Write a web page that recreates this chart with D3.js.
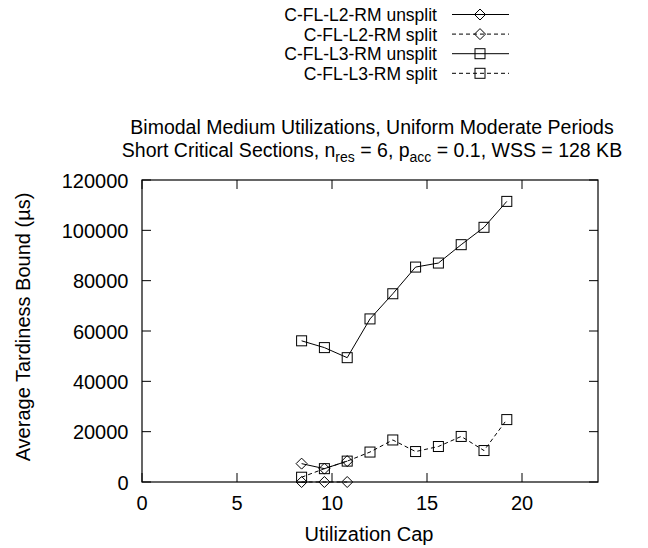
<!DOCTYPE html>
<html><head><meta charset="utf-8">
<script src="https://cdn.jsdelivr.net/npm/d3@7/dist/d3.min.js"></script>
<style>body{margin:0;background:#fff}svg{display:block}text{font-family:"Liberation Sans",Arial,sans-serif;fill:#000}</style>
</head><body><svg id="c" width="648" height="548"></svg>
<script>
const xCaps = [8.4, 9.6, 10.8, 12, 13.2, 14.4, 15.6, 16.8, 18, 19.2];
const l2Unsplit = [7300, 5300, 8300];
const l2Split = [0, 0, 0];
const l3Unsplit = [56100, 53400, 49400, 64800, 74800, 85400, 87000, 94300, 101200, 111500];
const l3Split = [1900, 5300, 8300, 11900, 16700, 12100, 14100, 18100, 12500, 24800];
const xTicks = [0, 5, 10, 15, 20];
const yTicks = [0, 20000, 40000, 60000, 80000, 100000, 120000];
const seriesNames = ["C-FL-L2-RM unsplit", "C-FL-L2-RM split", "C-FL-L3-RM unsplit", "C-FL-L3-RM split"];

const series = [
  {name: seriesNames[0], vals: l2Unsplit, dash: null, sym: "diamond"},
  {name: seriesNames[1], vals: l2Split, dash: "4,3", sym: "diamond"},
  {name: seriesNames[2], vals: l3Unsplit, dash: null, sym: "square"},
  {name: seriesNames[3], vals: l3Split, dash: "4,3", sym: "square"}
];

const svg = d3.select("#c");
const L = 142, R = 598, T = 180, B = 482;
const x = d3.scaleLinear().domain([0, 24]).range([L, R]);
const y = d3.scaleLinear().domain([0, 120000]).range([B, T]);
const fs = 20;
const tfs = 19.5;
const lfs = 17.5;

// ticks (inward, mirrored)
const tl = 9;
const g = svg.append("g").attr("stroke", "#000").attr("stroke-width", 1);
xTicks.forEach(t => {
  g.append("line").attr("x1", x(t)).attr("x2", x(t)).attr("y1", B).attr("y2", B - tl);
  g.append("line").attr("x1", x(t)).attr("x2", x(t)).attr("y1", T).attr("y2", T + tl);
});
yTicks.forEach(t => {
  g.append("line").attr("x1", L).attr("x2", L + tl).attr("y1", y(t)).attr("y2", y(t));
  g.append("line").attr("x1", R).attr("x2", R - tl).attr("y1", y(t)).attr("y2", y(t));
});
svg.append("rect").attr("x", L).attr("y", T).attr("width", R - L).attr("height", B - T)
  .attr("fill", "none").attr("stroke", "#000").attr("stroke-width", 1.2);

xTicks.forEach(t => svg.append("text").attr("x", x(t)).attr("y", 510).attr("text-anchor", "middle")
  .attr("font-size", fs).text(t));
yTicks.forEach(t => svg.append("text").attr("x", 128.5).attr("y", y(t) + 7.5).attr("text-anchor", "end")
  .attr("font-size", fs).text(t));

svg.append("text").attr("x", 369).attr("y", 541).attr("text-anchor", "middle").attr("font-size", fs).text("Utilization Cap");
svg.append("text").attr("transform", "translate(30,327) rotate(-90)").attr("text-anchor", "middle")
  .attr("font-size", fs).text("Average Tardiness Bound (µs)");

// title
svg.append("text").attr("x", 372).attr("y", 134).attr("text-anchor", "middle").attr("font-size", tfs)
  .text("Bimodal Medium Utilizations, Uniform Moderate Periods");
const t2 = svg.append("text").attr("x", 372).attr("y", 156.5).attr("text-anchor", "middle").attr("font-size", tfs);
t2.append("tspan").text("Short Critical Sections, n");
t2.append("tspan").attr("font-size", 14).attr("dy", 5).text("res");
t2.append("tspan").attr("dy", -5).text(" = 6, p");
t2.append("tspan").attr("font-size", 14).attr("dy", 5).text("acc");
t2.append("tspan").attr("dy", -5).text(" = 0.1, WSS = 128 KB");

function marker(sel, sym, cx, cy) {
  if (sym === "square") {
    sel.append("rect").attr("x", cx - 5).attr("y", cy - 5).attr("width", 10).attr("height", 10)
      .attr("fill", "none").attr("stroke", "#000").attr("stroke-width", 1);
  } else {
    sel.append("path").attr("d", `M${cx},${cy - 5.5}L${cx + 5.5},${cy}L${cx},${cy + 5.5}L${cx - 5.5},${cy}Z`)
      .attr("fill", "none").attr("stroke", "#000").attr("stroke-width", 1);
  }
}

const line = d3.line().x((d, i) => x(xCaps[i])).y(d => y(d));
series.forEach(s => {
  svg.append("path").attr("d", line(s.vals)).attr("fill", "none").attr("stroke", "#000")
    .attr("stroke-width", 1).attr("stroke-dasharray", s.dash);
  const mg = svg.append("g");
  s.vals.forEach((v, i) => marker(mg, s.sym, x(xCaps[i]), y(v)));
});

// legend
series.forEach((s, i) => {
  const ly = 14.5 + i * 19.6;
  svg.append("text").attr("x", 437).attr("y", ly + 6.5).attr("text-anchor", "end").attr("font-size", lfs).text(s.name);
  svg.append("line").attr("x1", 452).attr("x2", 509).attr("y1", ly).attr("y2", ly)
    .attr("stroke", "#000").attr("stroke-width", 1).attr("stroke-dasharray", s.dash);
  marker(svg, s.sym, 480, ly);
});
</script></body></html>
